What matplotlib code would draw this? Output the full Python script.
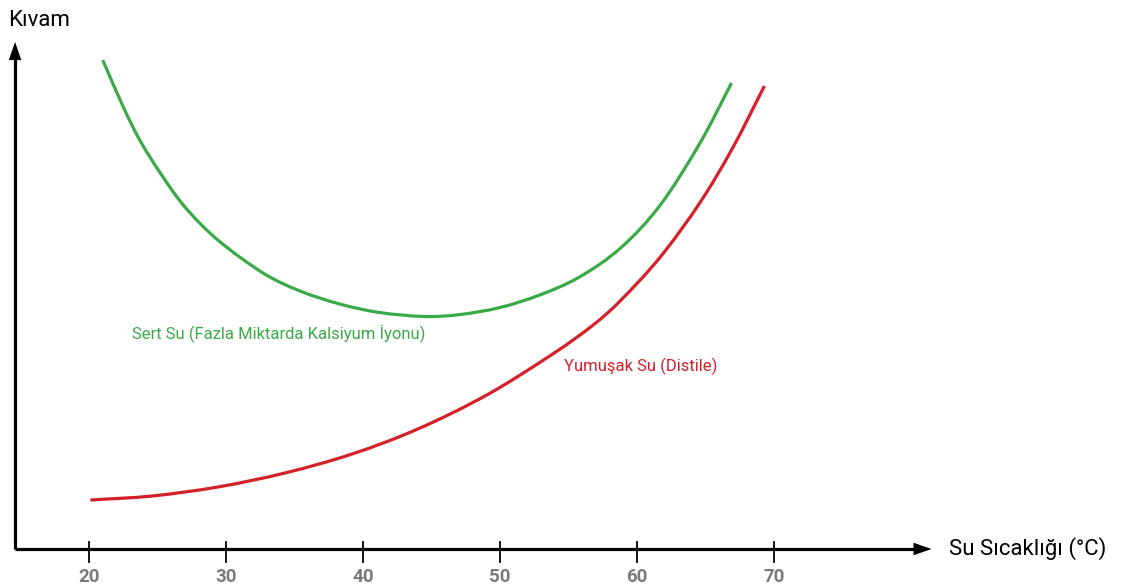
import matplotlib
matplotlib.use("Agg")
import numpy as np
import matplotlib.pyplot as plt
from matplotlib import font_manager
from matplotlib.path import Path
from matplotlib.patches import PathPatch

# Water temperature (°C) and consistency (arbitrary units)
hard_temp = [21.0, 22.5, 23.7, 25.2, 27.0, 29.4, 32.7, 35.4, 38.3, 41.2, 44.5, 47.1,
             50.0, 52.9, 55.8, 58.8, 61.7, 64.6, 66.9]
hard_cons = [97.6, 88.2, 81.6, 75.0, 68.2, 61.6, 55.0, 51.4, 48.8, 47.1, 46.3, 46.7,
             48.1, 50.6, 54.2, 60.0, 68.6, 81.0, 93.0]

soft_temp = [20.1, 24.6, 29.4, 34.3, 39.2, 44.0, 49.1, 53.9, 56.8, 58.8, 61.7, 64.6, 67.0, 69.3]
soft_cons = [9.6, 10.4, 12.2, 15.0, 18.8, 23.8, 30.7, 38.9, 44.6, 49.5, 58.2, 69.1, 80.1, 92.4]

tick_values = [20, 30, 40, 50, 60, 70]
tick_labels = ["20", "30", "40", "50", "60", "70"]

x_label = "Su Sıcaklığı (°C)"
y_label = "Kıvam"
hard_label = "Sert Su (Fazla Miktarda Kalsiyum İyonu)"
soft_label = "Yumuşak Su (Distile)"

installed = {f.name for f in font_manager.fontManager.ttflist}
narrow = "Liberation Sans Narrow" if "Liberation Sans Narrow" in installed else "Roboto"
plt.rcParams["font.family"] = [narrow, "DejaVu Sans"]

GREEN = "#3aaa48"
RED = "#d42029"
GRAY = "#7a7a7a"


def smooth_path(xs, ys):
    """Catmull-Rom curve through the points, expressed as cubic Bezier segments."""
    p = np.column_stack([xs, ys]).astype(float)
    ext = np.vstack([2 * p[0] - p[1], p, 2 * p[-1] - p[-2]])
    verts = [p[0]]
    codes = [Path.MOVETO]
    for i in range(1, len(ext) - 2):
        p0, p1, p2, p3 = ext[i - 1], ext[i], ext[i + 1], ext[i + 2]
        verts += [p1 + (p2 - p0) / 6.0, p2 - (p3 - p1) / 6.0, p2]
        codes += [Path.CURVE4] * 3
    return Path(verts, codes)


fig = plt.figure(figsize=(11.28, 5.88), dpi=100)
ax = fig.add_axes([0, 0, 1, 1])
ax.set_xlim(13.5, 95.84)
ax.set_ylim(-8, 109.6)
ax.axis("off")

x0, y0 = 14.6, -0.2
x_end, y_end = 81.5, 101.2

# axes with arrow heads
ax.plot([x0, x_end - 1.2], [y0, y0], color="black", lw=2.3, solid_capstyle="butt")
ax.plot([x0, x0], [y0, y_end - 3.0], color="black", lw=2.3, solid_capstyle="butt")
ax.annotate("", xy=(x_end, y0), xytext=(x_end - 1.4, y0),
            arrowprops=dict(arrowstyle="-|>,head_length=1.3,head_width=0.45",
                            color="black", lw=0, shrinkA=0, shrinkB=0))
ax.annotate("", xy=(x0, y_end), xytext=(x0, y_end - 4),
            arrowprops=dict(arrowstyle="-|>,head_length=1.3,head_width=0.45",
                            color="black", lw=0, shrinkA=0, shrinkB=0))

# tick marks crossing the x axis
for t, lab in zip(tick_values, tick_labels):
    ax.plot([t, t], [y0 + 1.5, y0 - 2.6], color="black", lw=1.3)
    ax.text(t, -5.7, lab, ha="center", va="center", color=GRAY,
            fontsize=13.5, fontweight="bold")

ax.text(14.1, 105.4, y_label, ha="left", va="center", fontsize=16, color="black")
ax.text(82.8, y0, x_label, ha="left", va="center", fontsize=16, color="black")

ax.add_patch(PathPatch(smooth_path(hard_temp, hard_cons), facecolor="none",
                       edgecolor=GREEN, lw=2.3, capstyle="butt"))
ax.add_patch(PathPatch(smooth_path(soft_temp, soft_cons), facecolor="none",
                       edgecolor=RED, lw=2.3, capstyle="butt"))

ax.text(23.1, 43.0, hard_label, ha="left", va="center", fontsize=12, color=GREEN)
ax.text(54.7, 36.4, soft_label, ha="left", va="center", fontsize=12, color=RED)

fig.savefig("out.png", dpi=100, facecolor="white")
